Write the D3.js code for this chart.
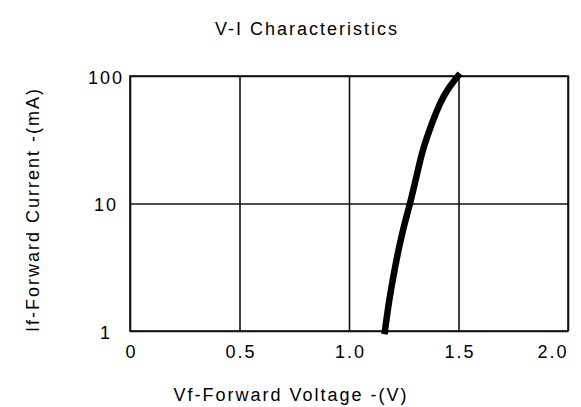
<!DOCTYPE html>
<html>
<head>
<meta charset="utf-8">
<script src="https://cdn.jsdelivr.net/npm/d3@7"></script>
<style>
  html, body { margin: 0; padding: 0; background: #fff; }
  svg { display: block; }
  text { font-family: "Liberation Sans", Arial, sans-serif; fill: #000; }
</style>
</head>
<body>
<svg id="chart" width="581" height="407"></svg>
<script>
// ---- data ----
const voltage = [1.164, 1.183, 1.210, 1.242, 1.279, 1.297, 1.315, 1.333, 1.356, 1.384, 1.416, 1.447, 1.498];
const current = [1.0, 1.75, 3.18, 5.87, 10, 13.5, 18.3, 24.9, 33.2, 45.2, 61.4, 77.6, 100];
const xTicks = [0, 0.5, 1.0, 1.5, 2.0];
const xTickLabels = ["0", "0.5", "1.0", "1.5", "2.0"];
const yTicks = [1, 10, 100];
const yTickLabels = ["1", "10", "100"];
const title = "V-I Characteristics";
const xTitle = "Vf-Forward Voltage -(V)";
const yTitle = "If-Forward Current -(mA)";

// ---- layout ----
const pLeft = 130, pRight = 568, pTop = 76, pBottom = 331;
const svg = d3.select("#chart");

const x = d3.scaleLinear().domain([0, 2]).range([pLeft, pRight]);
const y = d3.scaleLog().domain([1, 100]).range([pBottom, pTop]);

// x axis with grid lines
const xAxis = svg.append("g")
  .attr("transform", `translate(0,${pBottom})`)
  .call(d3.axisBottom(x).tickValues(xTicks)
    .tickFormat((d, i) => xTickLabels[i])
    .tickSize(-(pBottom - pTop)).tickPadding(0));
xAxis.select(".domain").remove();
xAxis.selectAll(".tick line").attr("stroke", "#111").attr("stroke-width", 1.6);
xAxis.selectAll(".tick text")
  .attr("y", 27).attr("dy", 0)
  .style("font-size", "18px").style("letter-spacing", "2px")
  .attr("fill", "#000")
  .attr("text-anchor", (d, i) => i === xTicks.length - 1 ? "end" : "middle")
  .attr("dx", (d, i) => i === xTicks.length - 1 ? 0 : 1);

// y axis with grid lines
const yAxis = svg.append("g")
  .attr("transform", `translate(${pLeft},0)`)
  .call(d3.axisLeft(y).tickValues(yTicks)
    .tickFormat((d, i) => yTickLabels[i])
    .tickSize(-(pRight - pLeft)).tickPadding(0));
yAxis.select(".domain").remove();
yAxis.selectAll(".tick line").attr("stroke", "#111").attr("stroke-width", 1.6);
yAxis.selectAll(".tick text")
  .attr("x", -24).attr("dy", 7)
  .attr("text-anchor", "middle")
  .style("font-size", "18px").style("letter-spacing", "2px")
  .attr("fill", "#000");

// plot border
svg.append("rect")
  .attr("x", pLeft).attr("y", pTop)
  .attr("width", pRight - pLeft).attr("height", pBottom - pTop)
  .attr("fill", "none").attr("stroke", "#111").attr("stroke-width", 1.6);

// curve
const pts = voltage.map((v, i) => [v, current[i]]);
svg.append("path")
  .datum(pts)
  .attr("fill", "none")
  .attr("stroke", "#000")
  .attr("stroke-width", 6.5)
  .attr("stroke-linecap", "square")
  .attr("d", d3.line().x(d => x(d[0])).y(d => y(d[1])).curve(d3.curveBasis));

// titles
svg.append("text")
  .attr("x", 307).attr("y", 35)
  .attr("text-anchor", "middle")
  .style("font-size", "18px").style("letter-spacing", "2px")
  .text(title);

svg.append("text")
  .attr("x", 291).attr("y", 401)
  .attr("text-anchor", "middle")
  .style("font-size", "18px").style("letter-spacing", "2px")
  .text(xTitle);

svg.append("text")
  .attr("transform", `translate(39,${(pTop + pBottom) / 2 + 6}) rotate(-90)`)
  .attr("text-anchor", "middle")
  .style("font-size", "18px").style("letter-spacing", "2px")
  .text(yTitle);
</script>
</body>
</html>
